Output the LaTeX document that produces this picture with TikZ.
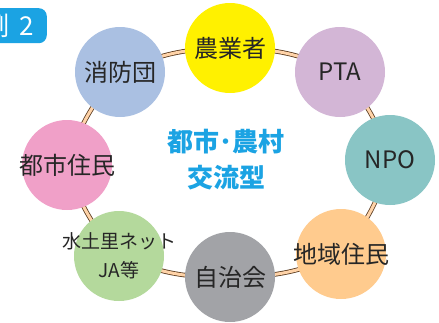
\documentclass[tikz,border=0pt]{standalone}
\usepackage{fontspec}
\setmainfont{Noto Sans CJK JP}
\usetikzlibrary{backgrounds}
\definecolor{cYellow}{HTML}{FFF100}
\definecolor{cPTA}{HTML}{D3B6D6}
\definecolor{cNPO}{HTML}{89C5C5}
\definecolor{cPeach}{HTML}{FFCB8E}
\definecolor{cGray}{HTML}{A2A3A7}
\definecolor{cGreen}{HTML}{B4D99C}
\definecolor{cPink}{HTML}{F0A0C8}
\definecolor{cBlue}{HTML}{AAC0E2}
\definecolor{cCyan}{HTML}{1BA3E3}
\definecolor{cText}{HTML}{262626}
\definecolor{cRing}{HTML}{FFD3A8}
\definecolor{cRingEdge}{HTML}{5A3A1E}
\newcommand{\nw}[1]{\makebox[0pt][c]{#1}}
\tikzset{
  member/.style={circle, fill=#1, minimum size=90pt, inner sep=0pt, text=cText, font=\fontsize{24}{26}\selectfont, align=center},
  ringlink/.style={draw=cRingEdge, line width=0.8pt, double=cRing, double distance=3pt},
}
\begin{document}
\begin{tikzpicture}[x=1pt,y=-1pt]
\useasboundingbox (0,0) rectangle (439,322);
\clip (0,0) rectangle (439,322);
\node[member=cYellow] (nogyo) at (230,48) {\nw{農業者}};
\node[member=cPTA] (pta) at (340,72) {\nw{PTA}};
\node[member=cNPO] (npo) at (390,160) {\nw{NPO}};
\node[member=cPeach] (chiiki) at (341,254) {\nw{地域住民}};
\node[member=cGray] (jichi) at (230,277) {\nw{自治会}};
\node[member=cGreen, font=\fontsize{19}{29}\selectfont] (mido) at (119,256) {\nw{水土里ネット}\\\nw{JA等}};
\node[member=cPink] (toshi) at (67,165) {\nw{都市住民}};
\node[member=cBlue] (shobo) at (120,72) {\nw{消防団}};
\begin{scope}[on background layer]
\draw[ringlink] (nogyo.center) to[bend left=12] (pta.center);
\draw[ringlink] (pta.center) to[bend left=12] (npo.center);
\draw[ringlink] (npo.center) to[bend left=12] (chiiki.center);
\draw[ringlink] (chiiki.center) to[bend left=12] (jichi.center);
\draw[ringlink] (jichi.center) to[bend left=12] (mido.center);
\draw[ringlink] (mido.center) to[bend left=12] (toshi.center);
\draw[ringlink] (toshi.center) to[bend left=12] (shobo.center);
\draw[ringlink] (shobo.center) to[bend left=12] (nogyo.center);
\end{scope}
\node[text=cCyan, font=\fontsize{26}{36}\selectfont\bfseries, align=center] (center) at (226,160) {都市･農村\\交流型};
\node[fill=cCyan, rounded corners=8pt, minimum width=60pt, minimum height=35pt, anchor=north east, inner sep=0pt] (tag) at (47,8) {};
\node[text=white, font=\fontsize{26}{30}\selectfont, anchor=east, inner sep=0pt] (tagtext) at (34,26) {例\hspace{10pt}2};
\end{tikzpicture}
\end{document}
